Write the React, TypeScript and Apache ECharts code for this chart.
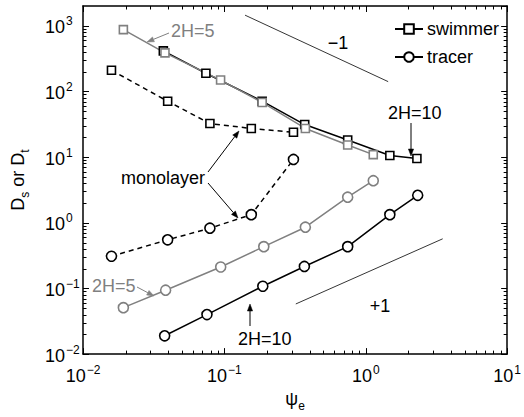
import React, { useEffect, useRef } from "react";
import * as echarts from "echarts";

// ---- data ----
const swimmer10X = [0.037, 0.074, 0.185, 0.37, 0.745, 1.48, 2.3];
const swimmer10Y = [414, 189, 71, 31.3, 18.2, 10.6, 9.5];
const swimmer5X = [0.0193, 0.038, 0.094, 0.185, 0.374, 0.745, 1.13];
const swimmer5Y = [873, 386, 149, 68, 27.3, 15.3, 10.9];
const monoX = [0.0159, 0.0397, 0.079, 0.155, 0.308];
const swimmerMonoY = [210, 71, 32.4, 27.3, 23.9];
const tracerMonoY = [0.309, 0.55, 0.826, 1.33, 9.2];
const tracer5X = [0.0193, 0.0384, 0.0942, 0.19, 0.374, 0.745, 1.13];
const tracer5Y = [0.051, 0.094, 0.212, 0.433, 0.855, 2.45, 4.37];
const tracer10X = [0.0378, 0.0753, 0.187, 0.368, 0.745, 1.48, 2.33];
const tracer10Y = [0.019, 0.04, 0.108, 0.216, 0.433, 1.33, 2.62];
const slopeMinusX = [0.14, 1.44];
const slopeMinusY = [1450, 141];
const slopePlusX = [0.32, 3.5];
const slopePlusY = [0.058, 0.57];
const legendNames = ["swimmer", "tracer"];

// minor tick positions (2..9 times each decade)
const minorMultipliers = [2, 3, 4, 5, 6, 7, 8, 9];
const xDecades = [0.01, 0.1, 1];
const yDecades = [0.01, 0.1, 1, 10, 100];
const xMinorTicks = xDecades.flatMap((d) => minorMultipliers.map((m) => m * d));
const yMinorTicks = yDecades.flatMap((d) => minorMultipliers.map((m) => m * d));

const FONT = "'Liberation Sans', Arial, Helvetica, sans-serif";
const GRAY = "#808080";
const FS = 18;

const zip = (xs: number[], ys: number[]) => xs.map((x, i) => [x, ys[i]]);

const powLabel = (v: number) => {
  const e = Math.log10(v);
  const r = Math.round(e);
  if (Math.abs(e - r) > 1e-6) return "";
  return `{b|10}{s|${r < 0 ? "\u2212" + -r : r}}`;
};

const richTick = {
  b: { fontSize: FS, fontFamily: FONT, color: "#000", verticalAlign: "bottom" as const },
  s: { fontSize: 12, fontFamily: FONT, color: "#000", verticalAlign: "bottom" as const, padding: [0, 0, 9, 1] },
};

function mkSeries(name: string, data: number[][], color: string, symbol: string, dashed: boolean, size: number) {
  return {
    name,
    type: "line",
    data,
    xAxisIndex: 0,
    yAxisIndex: 0,
    symbol,
    symbolSize: size,
    showSymbol: true,
    lineStyle: { color, width: 1.5, type: dashed ? [5, 4] : "solid" },
    itemStyle: { color: "#fff", borderColor: color, borderWidth: 1.6 },
    z: 3,
  };
}

function arrow(x1: number, y1: number, x2: number, y2: number, color: string) {
  const ang = Math.atan2(y2 - y1, x2 - x1);
  const L = 7, W = 2.6;
  const bx = x2 - L * Math.cos(ang), by = y2 - L * Math.sin(ang);
  const px = -Math.sin(ang), py = Math.cos(ang);
  return [
    { type: "line", shape: { x1, y1, x2: bx, y2: by }, style: { stroke: color, lineWidth: 1 }, z: 10 },
    {
      type: "polygon",
      shape: { points: [[x2, y2], [bx + px * W, by + py * W], [bx - px * W, by - py * W]] },
      style: { fill: color, stroke: color, lineWidth: 0.5 },
      z: 10,
    },
  ];
}

function txt(x: number, y: number, text: string, color = "#000", align = "left") {
  return {
    type: "text",
    x,
    y,
    style: {
      text,
      fill: color,
      fontSize: FS,
      fontFamily: FONT,
      align,
      verticalAlign: "middle",
    },
    z: 10,
  };
}

function minorTickSeries(values: number[], isX: boolean) {
  return {
    name: isX ? "xminor" : "yminor",
    type: "custom",
    coordinateSystem: "cartesian2d",
    xAxisIndex: 0,
    yAxisIndex: 0,
    silent: true,
    clip: false,
    data: values.map((v) => (isX ? [v, 1] : [1, v])),
    renderItem: (params: any, api: any) => {
      const cs = params.coordSys;
      const L = 3.5;
      const st = { stroke: "#000", lineWidth: 1 };
      if (isX) {
        const x = Math.round(api.coord([api.value(0), 1])[0]) + 0.5;
        return {
          type: "group",
          children: [
            { type: "line", shape: { x1: x, y1: cs.y + cs.height, x2: x, y2: cs.y + cs.height - L }, style: st },
            { type: "line", shape: { x1: x, y1: cs.y, x2: x, y2: cs.y + L }, style: st },
          ],
        };
      }
      const y = Math.round(api.coord([1, api.value(1)])[1]) + 0.5;
      return {
        type: "group",
        children: [
          { type: "line", shape: { x1: cs.x, y1: y, x2: cs.x + L, y2: y }, style: st },
          { type: "line", shape: { x1: cs.x + cs.width, y1: y, x2: cs.x + cs.width - L, y2: y }, style: st },
        ],
      };
    },
    z: 1,
  };
}

export default function App() {
  const ref = useRef<HTMLDivElement>(null);
  useEffect(() => {
    document.body.style.margin = "0";
    const chart = echarts.init(ref.current!, null, { renderer: "svg" });
    const axisCommon = {
      type: "log",
      logBase: 10,
      axisLine: { show: true, lineStyle: { color: "#000", width: 1.5 } },
      axisTick: { show: true, inside: true, length: 6, lineStyle: { color: "#000", width: 1 } },
      minorTick: { show: false },
      splitLine: { show: false },
      minorSplitLine: { show: false },
    };
    const nameRich = {
      b: { fontSize: FS, fontFamily: FONT, color: "#000", verticalAlign: "bottom" },
      s: { fontSize: 12, fontFamily: FONT, color: "#000", verticalAlign: "bottom", padding: [0, 0, -4, 0] },
    };
    const option: any = {
      animation: false,
      grid: { left: 83, right: 10, top: 6, bottom: 50, containLabel: false },
      xAxis: [
        {
          ...axisCommon,
          min: 0.01,
          max: 10,
          position: "bottom",
          axisLabel: { formatter: powLabel, rich: richTick, margin: 10 },
          name: "{b|\u03c8}{s|e}",
          nameLocation: "middle",
          nameGap: 15,
          nameTextStyle: { rich: nameRich },
        },
        {
          ...axisCommon,
          min: 0.01,
          max: 10,
          position: "top",
          axisLabel: { show: false },
        },
      ],
      yAxis: [
        {
          ...axisCommon,
          min: 0.01,
          max: 2000,
          position: "left",
          axisLabel: { formatter: powLabel, rich: richTick, margin: 38, align: "left", showMaxLabel: false },
          name: "{b|D}{s|s}{b| or D}{s|t}",
          nameLocation: "middle",
          nameRotate: 90,
          nameGap: 56,
          nameTextStyle: { rich: nameRich },
        },
        {
          ...axisCommon,
          min: 0.01,
          max: 2000,
          position: "right",
          axisLabel: { show: false },
        },
      ],
      legend: {
        data: legendNames,
        left: 394,
        top: 20,
        padding: 0,
        orient: "vertical",
        itemWidth: 28,
        itemHeight: 12,
        itemGap: 10,
        textStyle: { fontSize: FS, fontFamily: FONT, color: "#000", padding: [0, 0, 0, -1] },
      },
      series: [
        minorTickSeries(xMinorTicks, true),
        minorTickSeries(yMinorTicks, false),
        mkSeries("swimmer", [], "#000", "rect", false, 8),
        mkSeries("tracer", [], "#000", "circle", false, 10),
        mkSeries("swimmer 2H=10", zip(swimmer10X, swimmer10Y), "#000", "rect", false, 8),
        mkSeries("swimmer 2H=5", zip(swimmer5X, swimmer5Y), GRAY, "rect", false, 8),
        mkSeries("swimmer monolayer", zip(monoX, swimmerMonoY), "#000", "rect", true, 8),
        mkSeries("tracer monolayer", zip(monoX, tracerMonoY), "#000", "circle", true, 10),
        mkSeries("tracer 2H=5", zip(tracer5X, tracer5Y), GRAY, "circle", false, 10),
        mkSeries("tracer 2H=10", zip(tracer10X, tracer10Y), "#000", "circle", false, 10),
        {
          name: "slope -1",
          type: "line",
          data: zip(slopeMinusX, slopeMinusY),
          showSymbol: false,
          symbol: "none",
          lineStyle: { color: "#000", width: 0.8 },
        },
        {
          name: "slope +1",
          type: "line",
          data: zip(slopePlusX, slopePlusY),
          showSymbol: false,
          symbol: "none",
          lineStyle: { color: "#000", width: 0.8 },
        },
      ],
      graphic: [
        txt(338, 43, "\u22121", "#000", "center"),
        txt(380, 306, "+1", "#000", "center"),
        txt(171, 31, "2H=5", GRAY),
        ...arrow(169, 33, 147, 42, GRAY),
        txt(388, 113, "2H=10"),
        ...arrow(411, 123, 411, 156, "#000"),
        txt(121, 178, "monolayer"),
        ...arrow(208, 172, 239, 131, "#000"),
        ...arrow(208, 183, 238, 218, "#000"),
        txt(92, 286, "2H=5", GRAY),
        ...arrow(137, 287, 154, 296, GRAY),
        txt(238, 339, "2H=10"),
        ...arrow(250, 326, 250, 304, "#000"),
      ],
    };
    chart.setOption(option);
    return () => chart.dispose();
  }, []);
  return <div ref={ref} style={{ width: 524, height: 417 }} />;
}
